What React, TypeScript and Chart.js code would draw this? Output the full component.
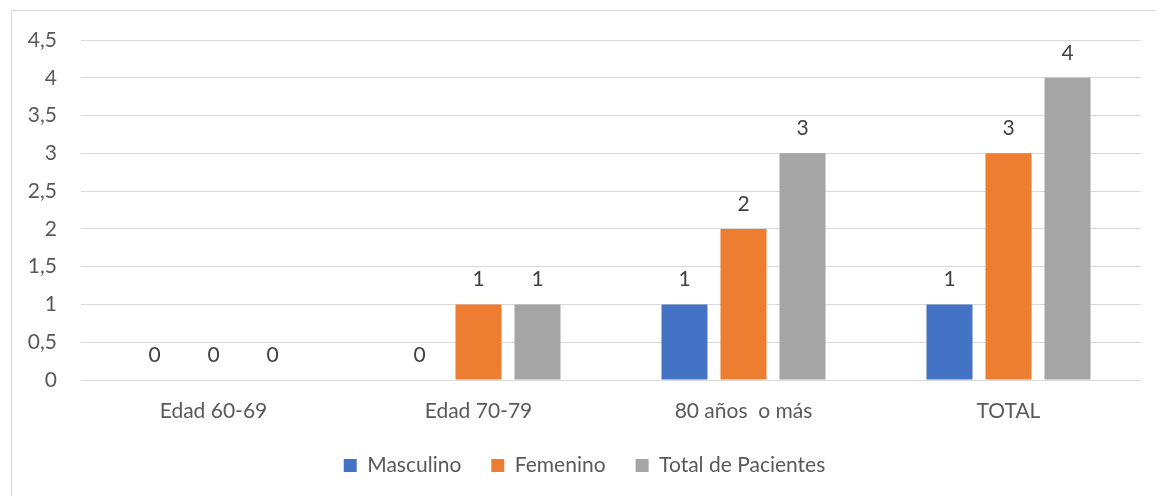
import React, { useEffect, useRef } from "react";
import { Chart, registerables } from "chart.js";

Chart.register(...registerables);

const categories = ["Edad 60-69", "Edad 70-79", "80 años  o más", "TOTAL"];
const masculino = [0, 0, 1, 1];
const femenino = [0, 1, 2, 3];
const totalPacientes = [0, 1, 3, 4];
const seriesNames = ["Masculino", "Femenino", "Total de Pacientes"];
const seriesColors = ["#4472C4", "#ED7D31", "#A5A5A5"];
const yMax = 4.5;
const yStep = 0.5;

const FONT = "Lato, 'Open Sans', sans-serif";
const FS = 21;

const dataLabelPlugin = {
  id: "dataLabels",
  afterDatasetsDraw(chart: any) {
    const ctx = chart.ctx;
    ctx.save();
    ctx.font = `${FS}px ${FONT}`;
    ctx.fillStyle = "#404040";
    ctx.textAlign = "center";
    ctx.textBaseline = "middle";
    chart.data.datasets.forEach((ds: any, di: number) => {
      const meta = chart.getDatasetMeta(di);
      meta.data.forEach((bar: any, i: number) => {
        const v = ds.data[i];
        ctx.fillText(String(v), bar.x, bar.y - 25);
      });
    });
    ctx.restore();
  },
};

const borderPlugin = {
  id: "outerBorder",
  beforeDraw(chart: any) {
    const ctx = chart.ctx;
    ctx.save();
    ctx.fillStyle = "#ffffff";
    ctx.fillRect(0, 0, chart.width, chart.height);
    ctx.strokeStyle = "#D9D9D9";
    ctx.lineWidth = 1;
    ctx.strokeRect(11.5, 10.5, chart.width + 20, chart.height + 20);
    ctx.restore();
  },
};

export default function App() {
  const canvasRef = useRef<HTMLCanvasElement | null>(null);

  useEffect(() => {
    document.body.style.margin = "0";
    const canvas = canvasRef.current;
    if (!canvas) return;
    const chart = new Chart(canvas, {
      type: "bar",
      data: {
        labels: categories,
        datasets: [masculino, femenino, totalPacientes].map((d, i) => ({
          label: seriesNames[i],
          data: d,
          backgroundColor: seriesColors[i],
          borderWidth: 0,
          categoryPercentage: 0.668,
          barPercentage: 0.78,
          yAxisID: "y",
        })),
      },
      options: {
        animation: false,
        responsive: false,
        maintainAspectRatio: false,
        layout: { padding: { left: 13, right: 0, top: 40, bottom: 10 } },
        scales: {
          x: {
            grid: { display: false },
            border: { display: true, color: "#D9D9D9", width: 1 },
            ticks: {
              color: "#595959",
              font: { size: FS, family: FONT },
              padding: 11,
              maxRotation: 0,
            },
            afterFit(scale: any) {
              scale.height = 45;
            },
          },
          y: {
            min: 0,
            max: yMax,
            grid: { color: "#D9D9D9", lineWidth: 1, drawTicks: false },
            border: { display: false },
            ticks: {
              stepSize: yStep,
              color: "#595959",
              font: { size: FS, family: FONT },
              padding: 24,
              callback: (v: any) => String(Number(v)).replace(".", ","),
            },
            afterFit(scale: any) {
              scale.width = 68;
            },
          },
          yRight: {
            position: "right",
            min: 0,
            max: yMax,
            grid: { display: false, drawTicks: false },
            border: { display: false },
            ticks: { display: false },
            afterFit(scale: any) {
              scale.width = 15;
            },
          },
        },
        plugins: {
          legend: {
            position: "bottom",
            labels: {
              boxWidth: 13,
              boxHeight: 13,
              color: "#595959",
              font: { size: FS, family: FONT },
              padding: 30,
            },
          },
          tooltip: { enabled: false },
        },
      },
      plugins: [borderPlugin, dataLabelPlugin],
    } as any);
    return () => chart.destroy();
  }, []);

  return (
    <div style={{ position: "absolute", left: 0, top: 0, width: 1156, height: 496 }}>
      <canvas ref={canvasRef} width={1156} height={496} style={{ display: "block" }} />
    </div>
  );
}
